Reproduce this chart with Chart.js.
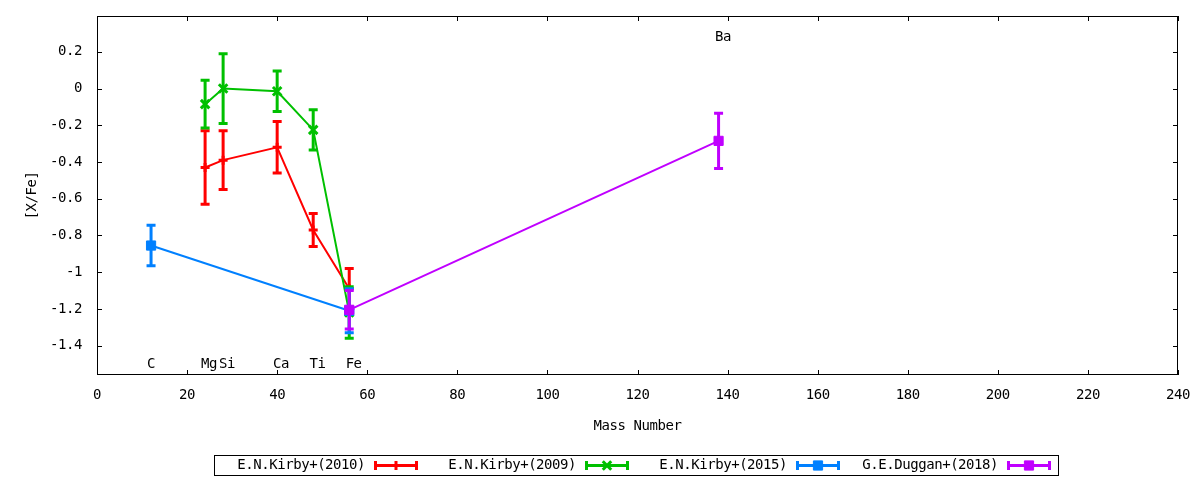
<!DOCTYPE html>
<html>
<head>
<meta charset="utf-8">
<title>[X/Fe] vs Mass Number</title>
<script src="https://cdn.jsdelivr.net/npm/chart.js@4.4.1/dist/chart.umd.min.js"></script>
<style>
  html, body { margin: 0; padding: 0; background: #fff; }
  #wrap { width: 1200px; height: 480px; }
</style>
</head>
<body>
<div id="wrap"><canvas id="chart" width="1200" height="480"></canvas></div>
<script>
// [X/Fe] abundance ratios against mass number
const kirby2010Mass = [24, 28, 40, 48, 56];
const kirby2010Val  = [-0.43, -0.39, -0.32, -0.77, -1.09];
const kirby2010Err  = [0.20, 0.16, 0.14, 0.09, 0.11];

const kirby2009Mass = [24, 28, 40, 48, 56];
const kirby2009Val  = [-0.085, 0.0, -0.015, -0.225, -1.22];
const kirby2009Err  = [0.13, 0.19, 0.11, 0.11, 0.14];

const kirby2015Mass = [12, 56];
const kirby2015Val  = [-0.855, -1.21];
const kirby2015Err  = [0.11, 0.12];

const duggan2018Mass = [56, 138];
const duggan2018Val  = [-1.205, -0.285];
const duggan2018Err  = [0.105, 0.15];

// element names written into the plot (data coordinates)
const elementNames = ['C', 'Mg', 'Si', 'Ca', 'Ti', 'Fe', 'Ba'];
const elementX     = [11.1, 23.1, 27.1, 39.1, 47.2, 55.2, 137.2];
const elementY     = [-1.5, -1.5, -1.5, -1.5, -1.5, -1.5, 0.28];

const FONT = 'DejaVu Sans Mono';
Chart.defaults.font.family = FONT;
Chart.defaults.font.size = 14;
Chart.defaults.color = '#000';

function series(label, mass, val, err, color, style, radius, order) {
  return {
    label: label,
    errors: err,
    order: order,
    data: mass.map((m, i) => ({ x: m, y: val[i] })),
    showLine: true,
    borderColor: color,
    backgroundColor: color,
    borderWidth: 2,
    pointStyle: style,
    pointRadius: radius,
    pointHoverRadius: radius,
    pointBorderWidth: style === 'rect' ? 1 : 3,
    pointBackgroundColor: color,
    pointBorderColor: color
  };
}

// vertical error bars with caps, drawn under each dataset
const errorBars = {
  id: 'errorBars',
  beforeDatasetDraw(chart, args) {
    const ds = chart.data.datasets[args.index];
    const { ctx, scales: { x, y } } = chart;
    ctx.save();
    ctx.strokeStyle = ds.borderColor;
    ctx.lineWidth = 3;
    ctx.beginPath();
    ds.data.forEach((p, i) => {
      const px = x.getPixelForValue(p.x);
      const top = y.getPixelForValue(p.y + ds.errors[i]);
      const bot = y.getPixelForValue(p.y - ds.errors[i]);
      ctx.moveTo(px, top); ctx.lineTo(px, bot);
      ctx.moveTo(px - 4.5, top); ctx.lineTo(px + 4.5, top);
      ctx.moveTo(px - 4.5, bot); ctx.lineTo(px + 4.5, bot);
    });
    ctx.stroke();
    ctx.restore();
  }
};

// gnuplot style border with inward ticks on all four sides, plus element labels
const frameAndTicks = {
  id: 'frameAndTicks',
  beforeDraw(chart) {
    chart.ctx.letterSpacing = '-0.45px';
  },
  afterDraw(chart) {
    const { ctx, chartArea: a, scales: { x, y } } = chart;
    ctx.save();
    ctx.strokeStyle = '#000';
    ctx.lineWidth = 1;
    ctx.strokeRect(a.left + 0.5, a.top + 0.5, a.right - a.left - 1, a.bottom - a.top - 1);
    ctx.beginPath();
    x.ticks.forEach(t => {
      const px = Math.round(x.getPixelForValue(t.value)) + 0.5;
      ctx.moveTo(px, a.bottom); ctx.lineTo(px, a.bottom - 5);
      ctx.moveTo(px, a.top); ctx.lineTo(px, a.top + 5);
    });
    y.ticks.forEach(t => {
      const py = Math.round(y.getPixelForValue(t.value)) + 0.5;
      ctx.moveTo(a.left, py); ctx.lineTo(a.left + 5, py);
      ctx.moveTo(a.right, py); ctx.lineTo(a.right - 5, py);
    });
    ctx.stroke();

    ctx.fillStyle = '#000';
    ctx.font = '14px "' + FONT + '"';
    ctx.textAlign = 'left';
    ctx.textBaseline = 'middle';
    elementNames.forEach((name, i) => {
      ctx.fillText(name, x.getPixelForValue(elementX[i]), y.getPixelForValue(elementY[i]));
    });
    ctx.restore();
  }
};

// boxed key below the plot, one entry per dataset with an errorbar sample
const keyBox = {
  id: 'keyBox',
  afterDraw(chart) {
    const { ctx } = chart;
    const sets = chart.data.datasets;
    const left = 214, top = 455, entryW = 211, h = 20;
    const cy = top + h / 2 + 0.5;
    ctx.save();
    ctx.strokeStyle = '#000';
    ctx.lineWidth = 1;
    ctx.strokeRect(left + 0.5, top + 0.5, entryW * sets.length, h);
    ctx.font = '14px "' + FONT + '"';
    ctx.textAlign = 'right';
    ctx.textBaseline = 'middle';
    sets.forEach((ds, i) => {
      const x0 = left + i * entryW;
      ctx.fillStyle = '#000';
      ctx.fillText(ds.label, x0 + 151, cy);
      const s0 = x0 + 160, s1 = x0 + 204;
      ctx.strokeStyle = ds.borderColor;
      ctx.fillStyle = ds.borderColor;
      ctx.lineWidth = 3;
      ctx.beginPath();
      ctx.moveTo(s0, cy); ctx.lineTo(s1, cy);
      ctx.moveTo(s0 + 1.5, cy - 4.5); ctx.lineTo(s0 + 1.5, cy + 4.5);
      ctx.moveTo(s1 - 1.5, cy - 4.5); ctx.lineTo(s1 - 1.5, cy + 4.5);
      ctx.stroke();
      ctx.lineWidth = ds.pointBorderWidth;
      Chart.helpers.drawPoint(ctx, {
        pointStyle: ds.pointStyle,
        radius: ds.pointRadius,
        borderWidth: ds.pointBorderWidth,
        rotation: 0
      }, (s0 + s1) / 2, cy);
    });
    ctx.restore();
  }
};

new Chart(document.getElementById('chart'), {
  type: 'scatter',
  data: {
    datasets: [
      series('E.N.Kirby+(2010)', kirby2010Mass, kirby2010Val, kirby2010Err, '#ff0000', 'cross', 4.5, 4),
      series('E.N.Kirby+(2009)', kirby2009Mass, kirby2009Val, kirby2009Err, '#00c000', 'crossRot', 6, 3),
      series('E.N.Kirby+(2015)', kirby2015Mass, kirby2015Val, kirby2015Err, '#0080ff', 'rect', 6.5, 2),
      series('G.E.Duggan+(2018)', duggan2018Mass, duggan2018Val, duggan2018Err, '#c000ff', 'rect', 6.5, 1)
    ]
  },
  options: {
    responsive: false,
    animation: false,
    layout: { padding: { top: 16, right: 22, bottom: 0, left: 0 } },
    plugins: {
      legend: { display: false },
      tooltip: { enabled: false }
    },
    scales: {
      x: {
        type: 'linear',
        min: 0,
        max: 240,
        grid: { display: false },
        border: { display: false },
        ticks: { stepSize: 20, padding: 4, maxRotation: 0 },
        title: { display: true, text: 'Mass Number', padding: { top: 0, bottom: 45 } },
        afterFit(scale) { scale.height = 105; }
      },
      y: {
        min: -1.56,
        max: 0.395,
        grid: { display: false },
        border: { display: false },
        ticks: {
          stepSize: 0.2,
          includeBounds: false,
          padding: 7,
          callback: v => String(Math.round(v * 10) / 10)
        },
        title: { display: true, text: '[X/Fe]', padding: { top: 24, bottom: 0 } },
        afterFit(scale) { scale.width = 97; }
      }
    }
  },
  plugins: [errorBars, frameAndTicks, keyBox]
});
</script>
</body>
</html>
